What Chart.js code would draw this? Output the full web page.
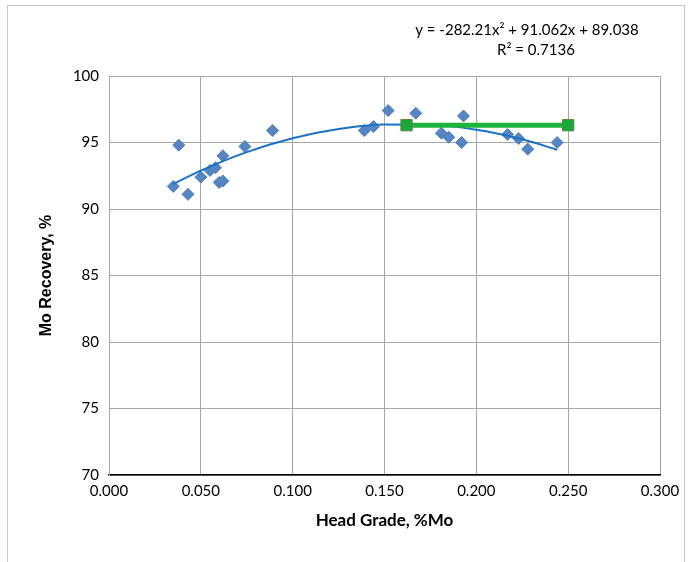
<!DOCTYPE html>
<html>
<head>
<meta charset="utf-8">
<script src="https://cdn.jsdelivr.net/npm/chart.js@4"></script>
<style>
  html, body { margin: 0; padding: 0; background: #fff; }
  #wrap { position: relative; width: 691px; height: 562px; }
  #frame { position: absolute; left: 7px; top: 5px; width: 678px; height: 560px;
           border: 1px solid #c8c8c8; box-sizing: border-box; }
  canvas { position: absolute; left: 0; top: 0; }
</style>
</head>
<body>
<div id="wrap">
  <div id="frame"></div>
  <canvas id="myChart" width="691" height="562"></canvas>
</div>
<script>
// measured points: head grade (%Mo) vs Mo recovery (%)
var gradeX = [0.035, 0.038, 0.043, 0.050, 0.055, 0.058, 0.060, 0.062, 0.062, 0.074, 0.089,
              0.139, 0.144, 0.152, 0.167, 0.181, 0.185, 0.192, 0.193, 0.217, 0.223, 0.228, 0.244];
var recoveryY = [91.7, 94.8, 91.1, 92.4, 92.9, 93.1, 92.0, 92.1, 94.0, 94.7, 95.9,
                 95.9, 96.2, 97.4, 97.2, 95.7, 95.4, 95.0, 97.0, 95.6, 95.3, 94.5, 95.0];

// polynomial trend line
var trendX = [0.035, 0.050, 0.075, 0.100, 0.125, 0.150, 0.175, 0.200, 0.225, 0.244];
var trendY = [91.88, 92.89, 94.28, 95.32, 96.01, 96.35, 96.33, 95.96, 95.24, 94.46];

// green plateau line
var plateauX = [0.162, 0.250];
var plateauY = [96.3, 96.3];

var xTickLabels = ['0.000', '0.050', '0.100', '0.150', '0.200', '0.250', '0.300'];
var yTickLabels = ['70', '75', '80', '85', '90', '95', '100'];

var eqLines = ['y = -282.21x\u00b2 + 91.062x + 89.038', 'R\u00b2 = 0.7136'];

function toPoints(xs, ys) {
    return xs.map(function (x, i) { return { x: x, y: ys[i] }; });
}

var equationLabel = {
    id: 'equationLabel',
    afterDraw: function (chart) {
        var c = chart.ctx;
        c.save();
        c.fillStyle = '#000';
        c.font = '15px Lato';
        c.textAlign = 'center';
        c.textBaseline = 'middle';
        c.fillText(eqLines[0], 527, 30);
        c.fillText(eqLines[1], 536, 50);
        c.restore();
    }
};

var ctx = document.getElementById('myChart').getContext('2d');
var myChart = new Chart(ctx, {
    type: 'scatter',
    data: {
        datasets: [{
            label: 'Plateau',
            data: toPoints(plateauX, plateauY),
            showLine: true,
            order: 0,
            borderColor: '#1fb23d',
            borderWidth: 5,
            pointStyle: 'rect',
            pointRadius: 8,
            pointBackgroundColor: '#1aa83a',
            pointBorderColor: '#5a8a3a',
            pointBorderWidth: 1
        },
        {
            label: 'Trend',
            data: toPoints(trendX, trendY),
            showLine: true,
            order: 1,
            borderColor: '#1a72c4',
            borderWidth: 2,
            cubicInterpolationMode: 'monotone',
            pointRadius: 0
        },
        {
            label: 'Recovery',
            data: toPoints(gradeX, recoveryY),
            order: 2,
            pointStyle: 'rectRot',
            pointRadius: 6,
            backgroundColor: '#5585c2',
            borderColor: '#4f7fbb',
            borderWidth: 1
        }]
    },
    options: {
        responsive: false,
        animation: false,
        layout: { padding: { left: 0, top: 76, right: 31, bottom: 28 } },
        plugins: {
            legend: { display: false },
            tooltip: { enabled: false }
        },
        scales: {
            x: {
                type: 'linear',
                min: 0,
                max: 0.3,
                afterFit: function (s) { s.height = 59; },
                afterBuildTicks: function (s) {
                    s.ticks = xTickLabels.map(function (t) { return { value: parseFloat(t) }; });
                },
                ticks: {
                    color: '#000',
                    font: { family: 'Lato', size: 15 },
                    padding: 7,
                    maxRotation: 0,
                    callback: function (v, i) { return xTickLabels[i]; }
                },
                grid: { color: '#a6a6a6', drawTicks: false, lineWidth: 1 },
                border: { color: '#000', width: 1.5 },
                title: {
                    display: true,
                    text: 'Head Grade, %Mo',
                    color: '#000',
                    font: { family: 'Lato', size: 17, weight: 'bold' },
                    padding: { top: 4, bottom: 3 }
                }
            },
            y: {
                type: 'linear',
                min: 70,
                max: 100,
                afterFit: function (s) { s.width = 109; },
                afterBuildTicks: function (s) {
                    s.ticks = yTickLabels.map(function (t) { return { value: parseFloat(t) }; });
                },
                ticks: {
                    color: '#000',
                    font: { family: 'Lato', size: 15 },
                    padding: 10,
                    callback: function (v, i) { return yTickLabels[i]; }
                },
                grid: { color: '#a6a6a6', drawTicks: false, lineWidth: 1 },
                border: { color: '#a6a6a6', width: 1 },
                title: {
                    display: true,
                    text: 'Mo Recovery, %',
                    color: '#000',
                    font: { family: 'Liberation Sans', size: 16, weight: 'bold' },
                    padding: { top: 37, bottom: 0 }
                }
            }
        }
    },
    plugins: [equationLabel]
});
</script>
</body>
</html>
